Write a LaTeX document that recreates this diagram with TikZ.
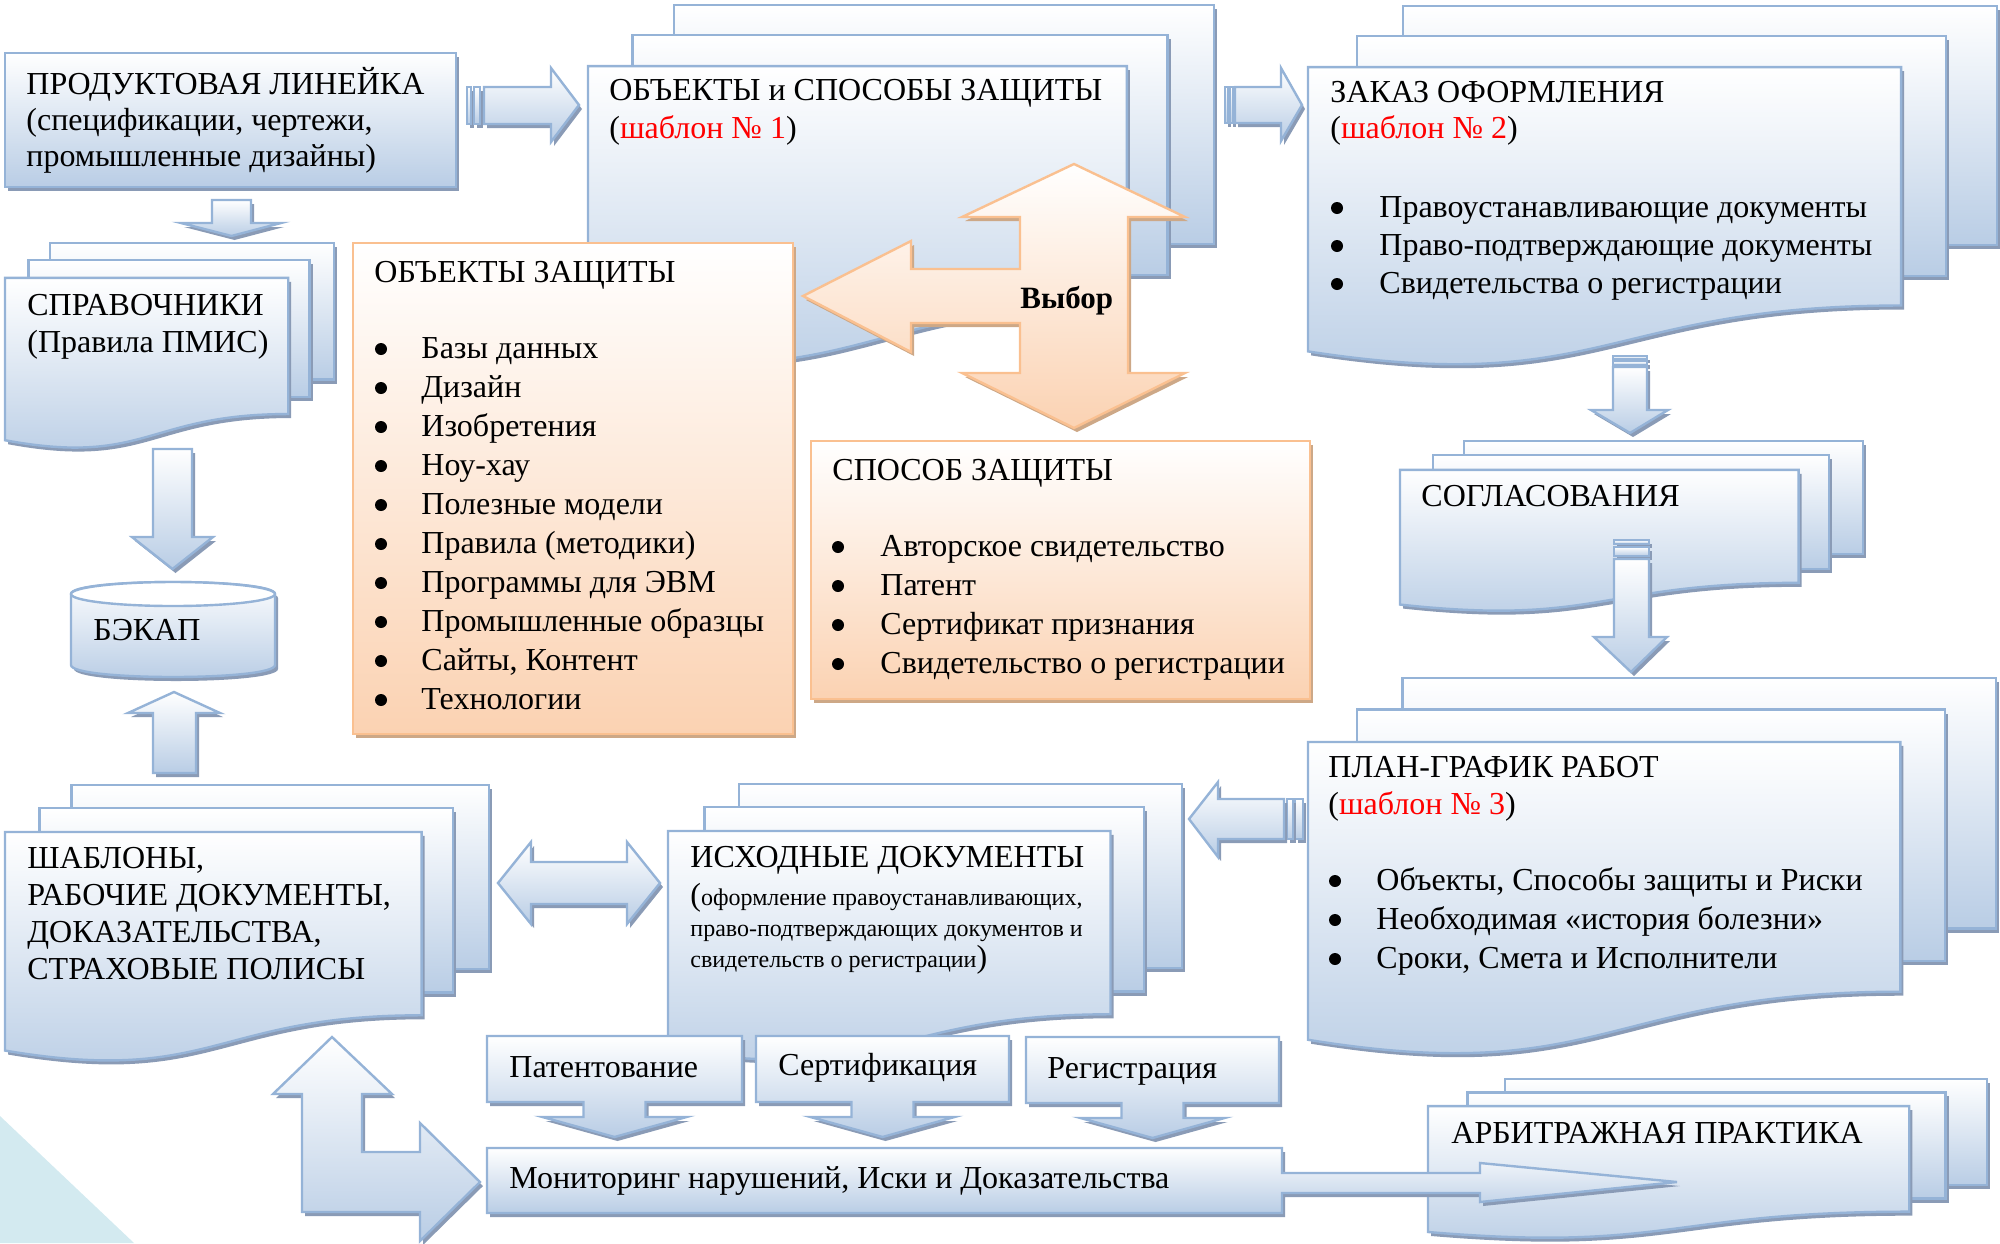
\documentclass[tikz,border=0pt]{standalone}
\usepackage{fontspec}
\setmainfont{Liberation Serif}
\usetikzlibrary{calc}
\definecolor{bline}{RGB}{149,179,215}
\definecolor{bfill}{RGB}{185,205,229}
\definecolor{bshad}{RGB}{138,155,182}
\definecolor{oline}{RGB}{250,192,144}
\definecolor{ofill}{RGB}{251,210,178}
\definecolor{oshad}{RGB}{205,168,135}
\definecolor{cyantri}{RGB}{211,234,240}
\tikzset{
 bshape/.style={draw=bline, line width=1.2pt, top color=white, bottom color=bfill},
 oshape/.style={draw=oline, line width=1.2pt, top color=white, bottom color=ofill},
 bsh/.style={fill=bshad, draw=none},
 osh/.style={fill=oshad, draw=none},
 txt/.style={inner sep=0pt, anchor=base west, font=\fontsize{16}{18}\selectfont},
 bulletdot/.style={fill=black},
}
\newcommand\shadowed[3]{\path[#1, shift={(3,4)}] #3; \path[#2] #3;}
\newcommand\mdoc[4]{%
 \pgfmathsetmacro\mdA{#1+0.1376*#3}%
 \pgfmathsetmacro\mdB{#1+#3}%
 \pgfmathsetmacro\mdC{#2+0.6663*#4}%
 \pgfmathsetmacro\mdD{#1+0.0709*#3}%
 \pgfmathsetmacro\mdE{#1+0.9259*#3}%
 \pgfmathsetmacro\mdF{#2+0.0840*#4}%
 \pgfmathsetmacro\mdG{#2+0.7524*#4}%
 \pgfmathsetmacro\mdH{#1+0.8609*#3}%
 \pgfmathsetmacro\mdI{#2+0.1701*#4}%
 \pgfmathsetmacro\mdJ{#2+0.8343*#4}%
 \pgfmathsetmacro\mdK{#2+0.9621*#4}%
 \pgfmathsetmacro\mdL{#1+0.4305*#3}%
 \pgfmathsetmacro\mdM{#2+1.0899*#4}%
 \shadowed{bsh}{bshape}{(\mdA,#2) rectangle (\mdB,\mdC)}%
 \shadowed{bsh}{bshape}{(\mdD,\mdF) rectangle (\mdE,\mdG)}%
 \shadowed{bsh}{bshape}{(#1,\mdI) -- (\mdH,\mdI) -- (\mdH,\mdJ) .. controls (\mdL,\mdJ) and (\mdL,\mdM) .. (#1,\mdK) -- cycle}%
}
\newcommand\dcallout[4]{%
 \pgfmathsetmacro\dcC{(#1+#3)/2}%
 \pgfmathsetmacro\dcSa{\dcC-31}\pgfmathsetmacro\dcSb{\dcC+31}%
 \pgfmathsetmacro\dcHa{\dcC-72}\pgfmathsetmacro\dcHb{\dcC+72}%
 \pgfmathsetmacro\dcYb{#4+15}\pgfmathsetmacro\dcYt{#4+35}%
 \shadowed{bsh}{bshape}{(#1,#2) -- (#3,#2) -- (#3,#4) -- (\dcSb,#4) -- (\dcSb,\dcYb) -- (\dcHb,\dcYb) -- (\dcC,\dcYt) -- (\dcHa,\dcYb) -- (\dcSa,\dcYb) -- (\dcSa,#4) -- (#1,#4) -- cycle}%
}
% bullets: x, first baseline, step, count
\newcommand\bullets[4]{\foreach \bi in {1,...,#4} {\fill[bulletdot] (#1,{#2+(\bi-1)*#3-9}) circle (6);}}
\begin{document}
\begin{tikzpicture}[x=0.5pt,y=-0.5pt]
\useasboundingbox (0,0) rectangle (2000,1243);
% background decoration
\fill[cyantri] (0,1116) -- (134,1243) -- (0,1243) -- cycle;

% product box
\shadowed{bsh}{bshape}{(5,53) rectangle (456,187)}
% striped arrow 1
\shadowed{bsh}{bshape}{(467,87) rectangle (471,124)}
\shadowed{bsh}{bshape}{(474,87) rectangle (480,124)}
\shadowed{bsh}{bshape}{(484,87) -- (551,87) -- (551,68) -- (579,105) -- (551,142) -- (551,124) -- (484,124) -- cycle}
% down arrow product -> spravochniki
\shadowed{bsh}{bshape}{(212,200) -- (251,200) -- (251,223) -- (281,223) -- (231.5,236) -- (181,223) -- (212,223) -- cycle}

% objects & methods multidoc
\mdoc{588}{5}{626}{359}
% striped arrow 2
\shadowed{bsh}{bshape}{(1225,87) rectangle (1228,123)}
\shadowed{bsh}{bshape}{(1230,87) rectangle (1233,123)}
\shadowed{bsh}{bshape}{(1235,87) -- (1281,87) -- (1281,68) -- (1302,105) -- (1281,141) -- (1281,123) -- (1235,123) -- cycle}
% order multidoc
\mdoc{1308}{6}{689}{359}
% spravochniki multidoc
\mdoc{5}{243}{329}{205}

% orange objects box
\shadowed{osh}{oshape}{(353,243) rectangle (793,734)}
% vybor arrow
\shadowed{osh}{oshape}{(1074,164) -- (1185,217) -- (1128,217) -- (1128,373) -- (1185,373) -- (1074,428) -- (962,373) -- (1020,373) -- (1020,323) -- (911,323) -- (911,352) -- (803,296) -- (911,241) -- (911,269) -- (1020,269) -- (1020,217) -- (962,217) -- cycle}
% orange method box
\shadowed{osh}{oshape}{(811,441) rectangle (1310,699)}

% soglasovaniya
\shadowed{bsh}{bshape}{(1613,356) rectangle (1647,359)}
\shadowed{bsh}{bshape}{(1613,361) rectangle (1647,365)}
\shadowed{bsh}{bshape}{(1613,367) -- (1647,367) -- (1647,410) -- (1668,410) -- (1630,433) -- (1591,410) -- (1613,410) -- cycle}
\mdoc{1400}{441}{463}{170}
\shadowed{bsh}{bshape}{(1614,540) rectangle (1649,544)}
\shadowed{bsh}{bshape}{(1614,547) rectangle (1649,556)}
\shadowed{bsh}{bshape}{(1614,559) -- (1649,559) -- (1649,637) -- (1667,637) -- (1631,672) -- (1594,637) -- (1614,637) -- cycle}

% plan
\mdoc{1308}{678}{688}{376}
% striped left arrow
\shadowed{bsh}{bshape}{(1295,799) rectangle (1303,839)}
\shadowed{bsh}{bshape}{(1287,799) rectangle (1293,839)}
\shadowed{bsh}{bshape}{(1189,819) -- (1218,782) -- (1218,799) -- (1284,799) -- (1284,839) -- (1218,839) -- (1218,857) -- cycle}

% source documents
\mdoc{668}{784}{514}{276}
\dcallout{487}{1036}{742}{1102}
\dcallout{756}{1036}{1009}{1102}
\dcallout{1026}{1037}{1279}{1103}

% templates
\mdoc{5}{785}{484}{276}
% double arrow
\shadowed{bsh}{bshape}{(498,883) -- (531,842) -- (531,862) -- (627,862) -- (627,842) -- (660,883) -- (627,924) -- (627,904) -- (531,904) -- (531,924) -- cycle}

% arbitration
\mdoc{1428}{1079}{559}{159}
% monitoring callout
\shadowed{bsh}{bshape}{(487,1148) -- (1282,1148) -- (1282,1173) -- (1480,1173) -- (1480,1163) -- (1677,1182) -- (1480,1202) -- (1480,1193) -- (1282,1193) -- (1282,1213) -- (487,1213) -- cycle}
% bent arrow
\shadowed{bsh}{bshape}{(332,1037) -- (392,1094) -- (362,1094) -- (362,1152) -- (420,1152) -- (420,1123) -- (480,1182) -- (420,1241) -- (420,1212) -- (302,1212) -- (302,1094) -- (273,1094) -- cycle}

% backup arrows and cylinder
\shadowed{bsh}{bshape}{(153,449) -- (192,449) -- (192,537) -- (213,537) -- (172.5,569) -- (132,537) -- (153,537) -- cycle}
\shadowed{bsh}{bshape}{(174,692) -- (220,713) -- (196,713) -- (196,773) -- (153,773) -- (153,713) -- (128,713) -- cycle}
\shadowed{bsh}{bshape}{(71,594) -- (71,665) .. controls (71,681) and (275,681) .. (275,665) -- (275,594) .. controls (275,578) and (71,578) .. (71,594) -- cycle}
\path[draw=bline, line width=1.2pt, fill=white] (173,594) ellipse [x radius=102, y radius=12];

% ---------------- bullets
\bullets{1337}{217}{38}{3}
\bullets{381}{358}{39}{10}
\bullets{838}{556}{39}{4}
\bullets{1335}{890}{39}{3}

% ---------------- texts
\node[txt] (tprod) at (26,94) {\begin{tabular}[t]{@{}l@{}}ПРОДУКТОВАЯ ЛИНЕЙКА\\(спецификации, чертежи,\\промышленные дизайны)\end{tabular}};
\node[txt, font=\fontsize{16}{18.5}\selectfont] (tspr) at (27,315) {\begin{tabular}[t]{@{}l@{}}СПРАВОЧНИКИ\\(Правила ПМИС)\end{tabular}};
\node[txt] (tbackup) at (93,640) {БЭКАП};
\node[txt] (tobjm) at (609,100) {ОБЪЕКТЫ и СПОСОБЫ ЗАЩИТЫ};
\node[txt] (tobjm2) at (609,138) {(\textcolor{red}{шаблон № 1})};
\node[txt] (tord) at (1330,102) {ЗАКАЗ ОФОРМЛЕНИЯ};
\node[txt] (tord2) at (1330,138) {(\textcolor{red}{шаблон № 2})};
\node[txt, font=\fontsize{16}{19}\selectfont] (lord) at (1379,217) {\begin{tabular}[t]{@{}l@{}}Правоустанавливающие документы\\Право-подтверждающие документы\\Свидетельства о регистрации\end{tabular}};

\node[txt] (tobj) at (374,282) {ОБЪЕКТЫ ЗАЩИТЫ};
\node[txt, font=\fontsize{16}{19.5}\selectfont] (lobj) at (421,358) {\begin{tabular}[t]{@{}l@{}}Базы данных\\Дизайн\\Изобретения\\Ноу-хау\\Полезные модели\\Правила (методики)\\Программы для ЭВМ\\Промышленные образцы\\Сайты, Контент\\Технологии\end{tabular}};

\node[txt, font=\fontsize{15.5}{18}\bfseries] (tvyb) at (1020,308) {Выбор};

\node[txt] (tmeth) at (832,480) {СПОСОБ ЗАЩИТЫ};
\node[txt, font=\fontsize{16}{19.5}\selectfont] (lmeth) at (880,556) {\begin{tabular}[t]{@{}l@{}}Авторское свидетельство\\Патент\\Сертификат признания\\Свидетельство о регистрации\end{tabular}};

\node[txt] (tsogl) at (1421,506) {СОГЛАСОВАНИЯ};

\node[txt] (tplan) at (1328,777) {ПЛАН-ГРАФИК РАБОТ};
\node[txt] (tplan2) at (1328,814) {(\textcolor{red}{шаблон № 3})};
\node[txt, font=\fontsize{16}{19.5}\selectfont] (lplan) at (1376,890) {\begin{tabular}[t]{@{}l@{}}Объекты, Способы защиты и Риски\\Необходимая «история болезни»\\Сроки, Смета и Исполнители\end{tabular}};

\node[txt] (tsrc) at (690,867) {ИСХОДНЫЕ ДОКУМЕНТЫ};
\node[txt, font=\fontsize{12}{15.5}\selectfont] (tsrc2) at (690,905) {\begin{tabular}[t]{@{}l@{}}{\fontsize{16}{18}\selectfont(}оформление правоустанавливающих,\\право-подтверждающих документов и\\свидетельств о регистрации{\fontsize{16}{18}\selectfont)}\end{tabular}};

\node[txt, font=\fontsize{16}{18.5}\selectfont] (ttpl) at (27,868) {\begin{tabular}[t]{@{}l@{}}ШАБЛОНЫ,\\РАБОЧИЕ ДОКУМЕНТЫ,\\ДОКАЗАТЕЛЬСТВА,\\СТРАХОВЫЕ ПОЛИСЫ\end{tabular}};

\node[txt] (tpat) at (509,1077) {Патентование};
\node[txt] (tcert) at (778,1075) {Сертификация};
\node[txt] (treg) at (1047,1078) {Регистрация};
\node[txt] (tmon) at (509,1188) {Мониторинг нарушений, Иски и Доказательства};
\node[txt] (tarb) at (1451,1143) {АРБИТРАЖНАЯ ПРАКТИКА};
\end{tikzpicture}
\end{document}
